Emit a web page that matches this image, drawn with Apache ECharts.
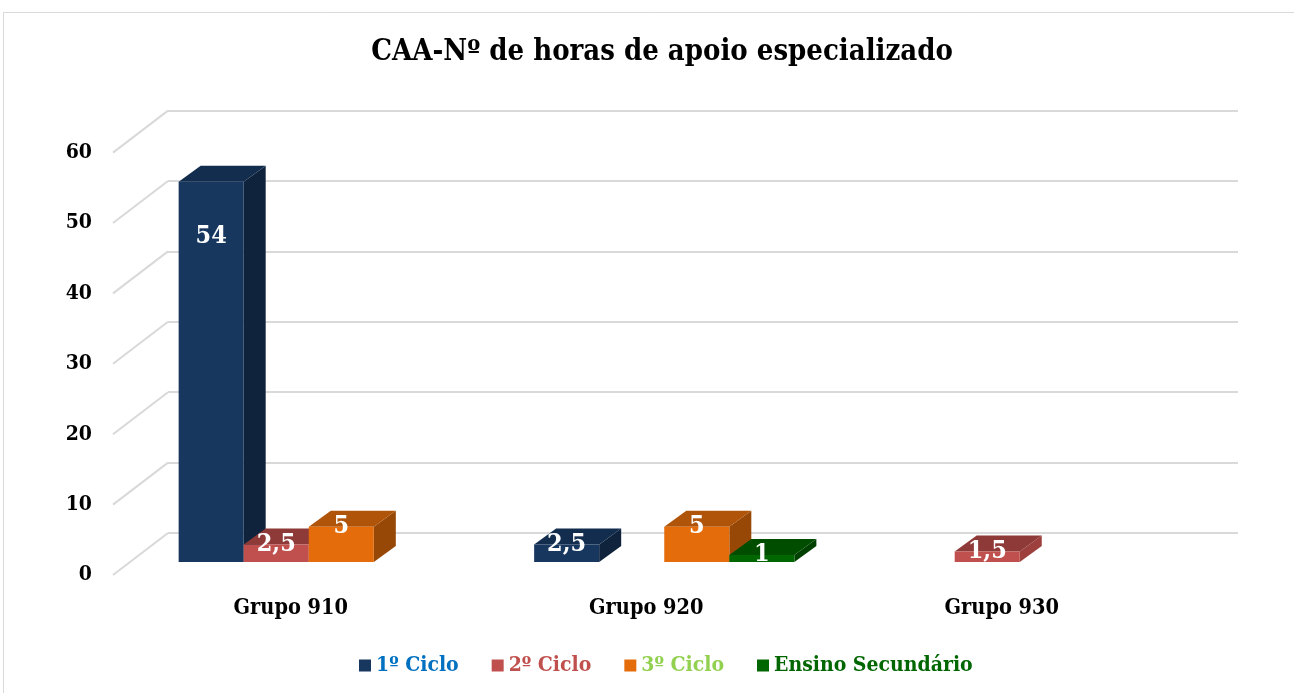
<!DOCTYPE html>
<html><head><meta charset="utf-8">
<script src="https://cdn.jsdelivr.net/npm/echarts@6/dist/echarts.min.js"></script>
<style>html,body{margin:0;padding:0;background:#fff}#c{width:1294px;height:693px}</style>
</head><body><div id="c"></div>
<script>
const categories = ['Grupo 910', 'Grupo 920', 'Grupo 930'];
const seriesNames = ['1º Ciclo', '2º Ciclo', '3º Ciclo', 'Ensino Secundário'];
const ciclo1 = [54, 2.5, null];
const ciclo2 = [2.5, null, 1.5];
const ciclo3 = [5, 5, null];
const secundario = [null, 1, null];
const yTicks = [0, 10, 20, 30, 40, 50, 60];

const seriesValues = [ciclo1, ciclo2, ciclo3, secundario];
const palette = [
  {front: '#17375E', top: '#132D4F', side: '#10233D', text: '#0070C0'},
  {front: '#C0504D', top: '#8E3A38', side: '#9C3F3D', text: '#C0504D'},
  {front: '#E46C0A', top: '#B05409', side: '#974806', text: '#92D050'},
  {front: '#006600', top: '#004D00', side: '#004000', text: '#006600'}
];
const FONT = '"DejaVu Serif Condensed", "DejaVu Serif", serif';
const DX = 22, DY = -16; // bar depth

function fmt(v) { return String(v).replace('.', ','); }

function makeRender(k, col) {
  return function (params, api) {
    const v = api.value(1);
    const ci = api.value(0);
    const c = api.coord([ci, 0]);
    const t = api.coord([ci, v]);
    const bw = api.size([1, 0])[0] * 0.183;
    const x0 = c[0] - 2 * bw + k * bw, x1 = x0 + bw;
    const yb = c[1], yt = t[1];
    const ly = (yb - yt) > 100 ? yt + 55 : yt;
    return {
      type: 'group',
      children: [
        {type: 'polygon', shape: {points: [[x1, yb], [x1 + DX, yb + DY], [x1 + DX, yt + DY], [x1, yt]]}, style: {fill: col.side}},
        {type: 'polygon', shape: {points: [[x0, yt], [x0 + DX, yt + DY], [x1 + DX, yt + DY], [x1, yt]]}, style: {fill: col.top}},
        {type: 'rect', shape: {x: x0, y: yt, width: bw, height: yb - yt}, style: {fill: col.front}},
        {type: 'text', style: {text: fmt(v), x: (x0 + x1) / 2, y: ly, align: 'center', verticalAlign: 'middle',
          fill: '#fff', font: 'bold 25px ' + FONT}}
      ]
    };
  };
}

const barSeries = seriesValues.map((vals, k) => ({
  type: 'custom',
  name: seriesNames[k],
  xAxisIndex: 0, yAxisIndex: 0,
  itemStyle: {color: palette[k].front},
  renderItem: makeRender(k, palette[k]),
  data: vals.map((v, i) => v == null ? null : [i, v]).filter(d => d !== null)
}));

const diagSeries = {
  type: 'custom', xAxisIndex: 1, yAxisIndex: 1, silent: true,
  renderItem: function (params, api) {
    const y = api.coord([0, api.value(1)])[1];
    const x = params.coordSys.x;
    return {type: 'line', shape: {x1: x, y1: y, x2: x + 55, y2: y - 42}, style: {stroke: '#D9D9D9', lineWidth: 2}};
  },
  data: yTicks.map(v => [0, v])
};

const chart = echarts.init(document.getElementById('c'), null, {renderer: 'canvas'});
chart.setOption({
  animation: false,
  backgroundColor: '#fff',
  title: {
    text: 'CAA-Nº de horas de apoio especializado',
    left: 657, top: 33, textAlign: 'center',
    textStyle: {fontFamily: FONT, fontWeight: 'bold', fontSize: 29, color: '#000'}
  },
  graphic: [{type: 'rect', shape: {x: 3.5, y: 12.5, width: 1300, height: 700}, style: {fill: 'none', stroke: '#D9D9D9', lineWidth: 1}, z: -10}],
  legend: {
    left: 354, top: 650, itemWidth: 12, itemHeight: 12, itemGap: 33, icon: 'rect',
    textStyle: {fontFamily: FONT, fontWeight: 'bold', fontSize: 21},
    data: seriesNames.map((n, k) => ({name: n, textStyle: {color: palette[k].text}}))
  },
  grid: [
    {left: 131, right: 96.5, top: 139.6, bottom: 131},
    {left: 113, right: 114.5, top: 152.6, bottom: 118},
    {left: 168, right: 56, top: 110.6, bottom: 160.4}
  ],
  xAxis: [
    {gridIndex: 0, type: 'category', data: categories, show: false},
    {gridIndex: 1, type: 'category', data: categories, axisLine: {show: false}, axisTick: {show: false},
      axisLabel: {margin: 22, color: '#000', fontFamily: FONT, fontWeight: 'bold', fontSize: 21.5}},
    {gridIndex: 2, type: 'category', data: categories, show: false}
  ],
  yAxis: [
    {gridIndex: 0, type: 'value', min: 0, max: 60, interval: 10, show: false},
    {gridIndex: 1, type: 'value', min: 0, max: 60, interval: 10, splitLine: {show: false}, axisLine: {show: false}, axisTick: {show: false},
      axisLabel: {margin: 21, color: '#000', fontFamily: FONT, fontWeight: 'bold', fontSize: 21}},
    {gridIndex: 2, type: 'value', min: 0, max: 60, interval: 10, axisLabel: {show: false}, axisLine: {show: false}, axisTick: {show: false},
      splitLine: {show: true, lineStyle: {color: '#D9D9D9', width: 2}}}
  ],
  series: [diagSeries].concat(barSeries)
});
</script>
</body></html>
